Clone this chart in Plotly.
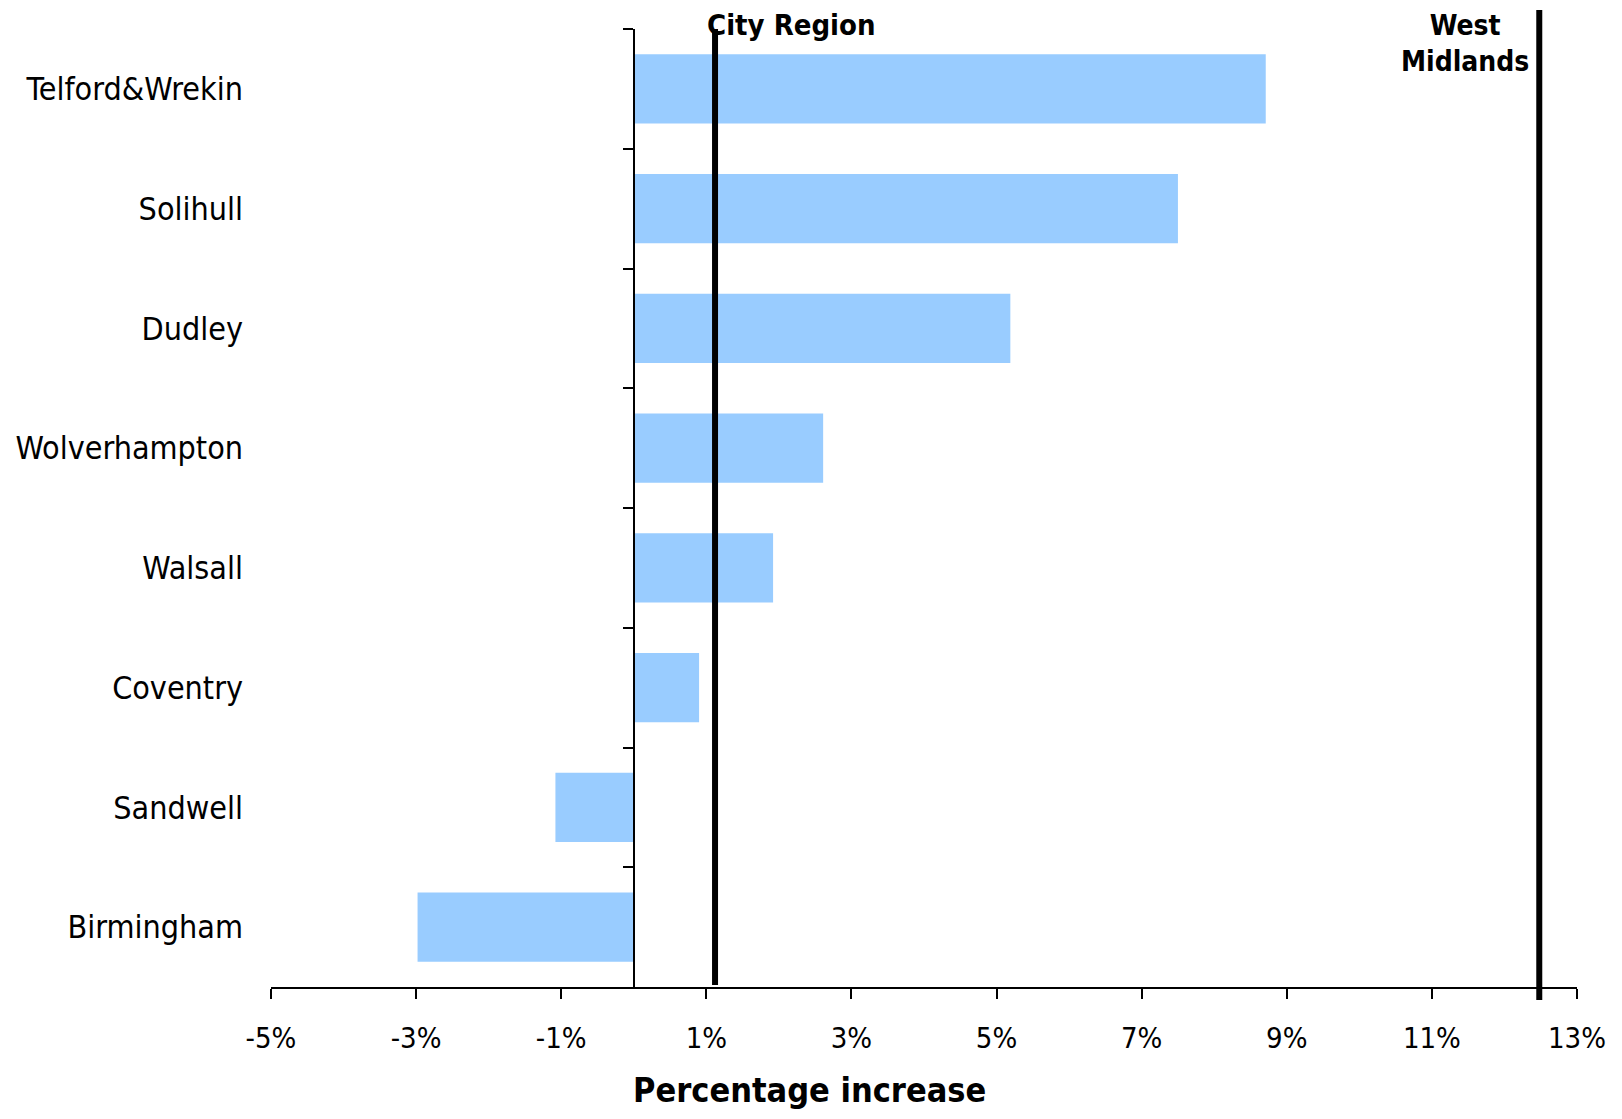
import plotly.graph_objects as go

categories = ["Telford&Wrekin", "Solihull", "Dudley", "Wolverhampton",
              "Walsall", "Coventry", "Sandwell", "Birmingham"]
values = [8.71, 7.50, 5.19, 2.61, 1.92, 0.90, -1.08, -2.98]

ref_names = ["City Region", "West<br>Midlands"]
ref_values = [1.12, 12.48]

tick_vals = [-5, -3, -1, 1, 3, 5, 7, 9, 11, 13]
tick_text = ["-5%", "-3%", "-1%", "1%", "3%", "5%", "7%", "9%", "11%", "13%"]

FONT = "DejaVu Sans Condensed"
BAR_COLOR = "#99CCFF"

fig = go.Figure()

fig.add_trace(go.Bar(
    x=values, y=categories, orientation="h",
    marker=dict(color=BAR_COLOR, line=dict(width=0)),
    hoverinfo="x+y", showlegend=False,
))

# invisible trace to carry the category labels on the left axis
fig.add_trace(go.Scatter(
    x=values, y=categories, yaxis="y2", mode="markers",
    marker=dict(opacity=0), hoverinfo="skip", showlegend=False,
))

# page has an 8px body margin, so the figure is 16px smaller than the window
W, H = 1606, 1103
ml, mt = 263, 21
plot_w, plot_h = 1306.5, 958
mr = W - ml - plot_w
mb = H - mt - plot_h

xmin, xmax = -5, 13
zero_frac = (0 - xmin) / (xmax - xmin)

fig.update_layout(
    width=W, height=H, autosize=False,
    margin=dict(l=ml, r=mr, t=mt, b=mb, pad=0, autoexpand=False),
    paper_bgcolor="white", plot_bgcolor="white",
    bargap=0.42,
    font=dict(family=FONT, size=28, color="black"),
    xaxis=dict(
        range=[xmin, xmax], tickvals=tick_vals, ticktext=tick_text,
        automargin=False,
        showgrid=False, zeroline=False,
        showline=True, linecolor="black", linewidth=2,
        ticks="outside", ticklen=10, tickwidth=2, tickcolor="black",
        ticklabelstandoff=14,
        tickfont=dict(family=FONT, size=29, color="black"),
    ),
    yaxis=dict(
        type="category", categoryarray=categories, autorange="reversed",
        anchor="free", position=zero_frac, automargin=False,
        showgrid=False, zeroline=False,
        showline=True, linecolor="black", linewidth=2,
        ticks="outside", ticklen=10, tickwidth=2, tickcolor="black",
        tickson="boundaries", showticklabels=False,
    ),
    yaxis2=dict(
        type="category", categoryarray=categories, autorange="reversed",
        overlaying="y", anchor="x", side="left", matches="y", automargin=False,
        showgrid=False, zeroline=False, showline=False, ticks="",
        ticklabelstandoff=27,
        tickfont=dict(family=FONT, size=32, color="black"),
    ),
)

# reference lines
line_spans = [(0.002, 1.0), (-0.0135, 1.0198)]
for v, (y0, y1) in zip(ref_values, line_spans):
    fig.add_shape(type="line", xref="x", yref="paper", x0=v, x1=v,
                  y0=y0, y1=y1, line=dict(color="black", width=6), layer="above")

# reference labels
fig.add_annotation(text="<b>" + ref_names[0] + "</b>", xref="x", yref="paper",
                   x=ref_values[0], xanchor="left", xshift=-10,
                   y=1.0, yanchor="middle", yshift=4, showarrow=False,
                   font=dict(family=FONT, size=29, color="black"))
fig.add_annotation(text="<b>" + ref_names[1] + "</b>", xref="x", yref="paper",
                   x=ref_values[1], xanchor="center", xshift=-74,
                   y=1.0, yanchor="middle", yshift=-14.5, showarrow=False,
                   font=dict(family=FONT, size=28, color="black"))

# axis title (placed left of centre, as in the original)
fig.add_annotation(text="<b>Percentage increase</b>", xref="paper", yref="paper",
                   x=0.4126, xanchor="center", y=0, yanchor="bottom", yshift=-124,
                   showarrow=False, borderpad=0,
                   font=dict(family=FONT, size=34, color="black"))

fig.write_html("out.html")
